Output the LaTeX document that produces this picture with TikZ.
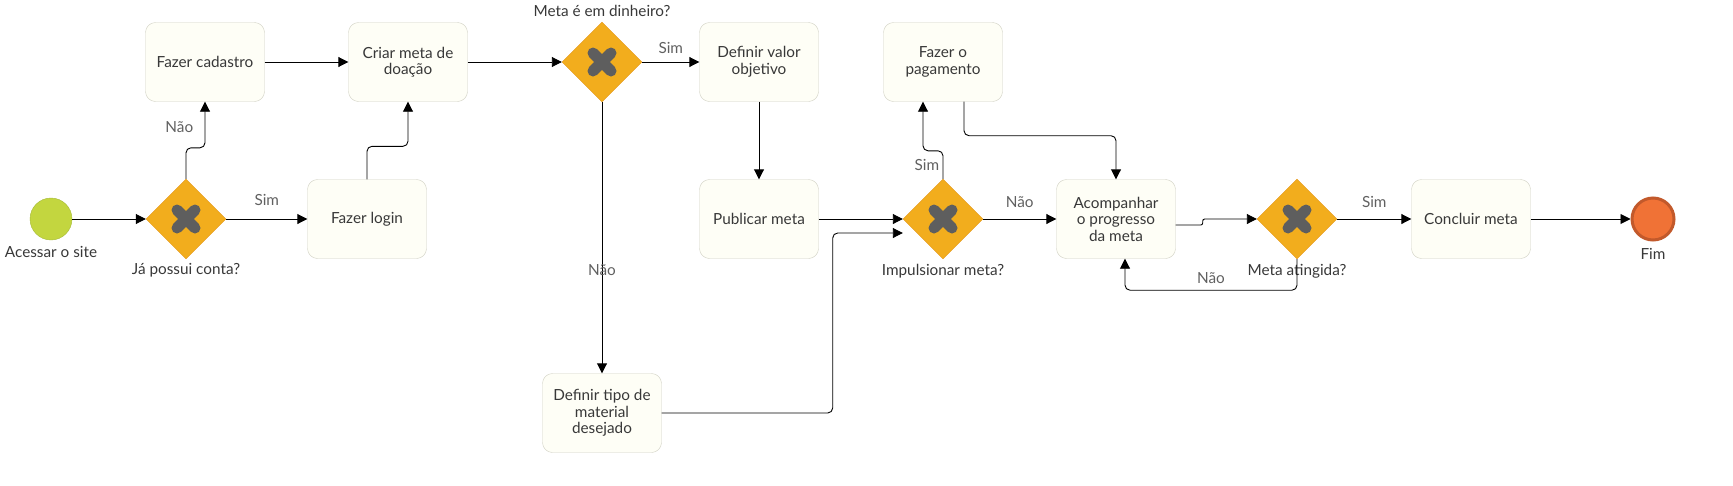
\documentclass[tikz,border=0pt]{standalone}
\usepackage{fontspec}
\setmainfont{Lato}
\usetikzlibrary{positioning,arrows.meta,shapes.geometric}

\definecolor{taskfill}{HTML}{FEFEF6}
\definecolor{taskline}{HTML}{CFCFC2}
\definecolor{gwfill}{HTML}{F2AD1D}
\definecolor{gwline}{HTML}{E2961A}
\definecolor{xgrey}{HTML}{5E5E5E}
\definecolor{startfill}{HTML}{C3D63F}
\definecolor{startline}{HTML}{A6BA3A}
\definecolor{endfill}{HTML}{F07236}
\definecolor{endline}{HTML}{C2592B}
\definecolor{txt}{HTML}{383838}
\definecolor{lblgrey}{HTML}{606060}

\begin{document}
\begin{tikzpicture}[x=1pt, y=-1pt, on grid, >={Triangle[length=10pt,width=10pt]},
	font=\fontsize{15.3}{16.5}\selectfont, text=txt,
	task/.style={rectangle, rounded corners=10pt, draw=taskline, fill=taskfill, minimum width=119pt, minimum height=79pt, align=center, inner sep=2pt},
	gateway/.style={diamond, draw=gwline, fill=gwfill, minimum width=80pt, minimum height=80pt, inner sep=0pt,
		path picture={\draw[xgrey, line width=11pt, line cap=round]
			([shift={(-9pt,-9pt)}]path picture bounding box.center) -- ([shift={(9pt,9pt)}]path picture bounding box.center)
			([shift={(-9pt,9pt)}]path picture bounding box.center) -- ([shift={(9pt,-9pt)}]path picture bounding box.center);}},
	startev/.style={circle, draw=startline, fill=startfill, minimum size=42pt, inner sep=0pt},
	endev/.style={circle, draw=endline, line width=3pt, fill=endfill, minimum size=42pt, inner sep=0pt},
	lbl/.style={text=lblgrey},
	flow/.style={->, draw=black, line width=0.9pt, rounded corners=5pt}]

\useasboundingbox (0,0) rectangle (1733,485);

\node[startev, label={[label distance=3pt]below:Acessar o site}]	(start)	at (51,219)	{};
\node[gateway, label={[label distance=1pt]below:Já possui conta?}]	(gw1)	[right=135pt of start]	{};
\node[task]		(cadastro)	[above right=157pt and 19pt of gw1]	{Fazer cadastro};
\node[task]		(login)		[right=181pt of gw1]		{Fazer login};
\node[task]		(criar)		[right=203pt of cadastro]	{Criar meta de\\doação};
\node[gateway, label={[label distance=2pt]above:Meta é em dinheiro?}]	(gw2)	[right=194pt of criar]	{};
\node[task]		(valor)		[right=157pt of gw2]		{Definir valor\\objetivo};
\node[task]		(publicar)	[below=157pt of valor]		{Publicar meta};
\node[task]		(tipo)		[below=351pt of gw2]		{Definir tipo de\\material\\desejado};
\node[gateway, label={[label distance=1pt]below:Impulsionar meta?}]	(gw3)	[right=184pt of publicar]	{};
\node[task]		(pagamento)	[above=157pt of gw3]		{Fazer o\\pagamento};
\node[task]		(acomp)		[right=173pt of gw3]		{Acompanhar\\o progresso\\da meta};
\node[gateway, label={[label distance=1pt]below:Meta atingida?}]	(gw4)	[right=181pt of acomp]	{};
\node[task]		(concluir)	[right=174pt of gw4]		{Concluir meta};
\node[endev, label={[label distance=3pt]below:Fim}]	(fim)	[right=182pt of concluir]	{};

\path[flow]	(start)		edge									(gw1)
			(gw1)		edge	node	[lbl, above=10pt]	{Sim}		(login)
			(cadastro)	edge									(criar)
			(criar)		edge									(gw2)
			(gw2)		edge	node	[lbl, above=5pt]	{Sim}		(valor)
						edge	node	[lbl, pos=0.62]		{Não}		(tipo)
			(valor)		edge									(publicar)
			(publicar)	edge									(gw3)
			(gw3)		edge	node	[lbl, above=8pt]	{Não}		(acomp)
			(gw4)		edge	node	[lbl, above=8pt]	{Sim}		(concluir)
			(concluir)	edge									(fim);

\draw[flow]	(gw1.north) -- ++(0,-31) -| node[lbl, pos=0.72, left=8pt] {Não} (cadastro.south);
\draw[flow]	(login.north) -- ++(0,-33) -| (criar.south);
\draw[flow]	(gw3.north) -- node[lbl, left=0pt] {Sim} ++(0,-28) -| ([xshift=-20pt]pagamento.south);
\draw[flow]	([xshift=21pt]pagamento.south) -- ++(0,34) -| (acomp.north);
\draw[flow]	(tipo.east) -- ++(171,0) |- ([yshift=-14pt]gw3.west);
\draw[flow, rounded corners=2pt]	([yshift=-6pt]acomp.east) -- ++(27,0) |- (gw4.west);
\draw[flow]	(gw4.south) -- ++(0,31) -| node[lbl, pos=0.25, above=3pt] {Não} ([xshift=9pt]acomp.south);
\end{tikzpicture}
\end{document}
